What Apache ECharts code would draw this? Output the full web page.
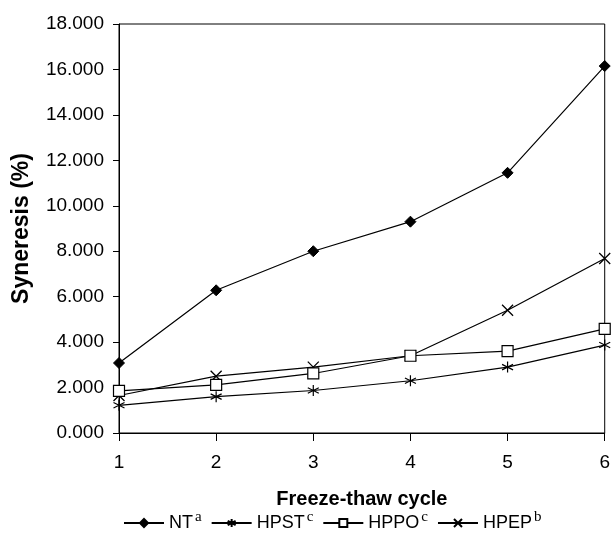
<!DOCTYPE html>
<html>
<head>
<meta charset="utf-8">
<script src="https://cdn.jsdelivr.net/npm/echarts@6/dist/echarts.min.js"></script>
<style>
  html, body { margin: 0; padding: 0; background: #fff; }
  #chart { width: 613px; height: 551px; }
</style>
</head>
<body>
<div id="chart"></div>
<script>
// freeze-thaw cycles
var cycles = [1, 2, 3, 4, 5, 6];
// syneresis (%) per starch
var ntValues   = [3.08, 6.28, 8.00, 9.30, 11.45, 16.15];
var hpstValues = [1.22, 1.60, 1.87, 2.30, 2.90, 3.87];
var hppoValues = [1.85, 2.12, 2.62, 3.40, 3.60, 4.58];
var hpepValues = [1.65, 2.50, 2.90, 3.40, 5.40, 7.68];
var seriesNames = ['NT', 'HPST', 'HPPO', 'HPEP'];
var superscripts = ['a', 'c', 'c', 'b'];

function pairs(vals) {
    return cycles.map(function (c, i) { return [c, vals[i]]; });
}

var myChart = echarts.init(document.getElementById('chart'));

var asterisk = 'path://M5,0L5,10M0.7,2.5L9.3,7.5M9.3,2.5L0.7,7.5';
var cross = 'path://M0,0L10,10M10,0L0,10';

function makeSeries(idx, vals, symbol, size, itemStyle) {
    return {
        name: seriesNames[idx],
        type: 'line',
        data: pairs(vals),
        symbol: symbol,
        symbolSize: size,
        showAllSymbol: true,
        lineStyle: { color: '#000', width: 1.2 },
        itemStyle: itemStyle,
        emphasis: { disabled: true },
        z: 10 - idx
    };
}

var option = {
    animation: false,
    backgroundColor: '#fff',
    textStyle: { fontFamily: 'Liberation Sans, Arial, sans-serif', color: '#000' },
    grid: {
        left: 119, right: 7, top: 24, bottom: 118,
        show: true, borderColor: '#000', borderWidth: 1
    },
    legend: {
        bottom: 14,
        left: 118,
        itemWidth: 40,
        itemHeight: 10,
        itemGap: 9,
        data: seriesNames,
        formatter: function (name) {
            var i = seriesNames.indexOf(name);
            return '{m|' + name + '}{s|' + superscripts[i] + '}';
        },
        textStyle: {
            color: '#000',
            rich: {
                m: { fontSize: 18, fontFamily: 'Liberation Sans', color: '#000' },
                s: { fontSize: 15, fontFamily: 'Liberation Serif', color: '#000', padding: [0, 0, 12, 2] }
            }
        }
    },
    xAxis: {
        type: 'value',
        min: 1, max: 6, interval: 1,
        name: 'Freeze-thaw cycle',
        nameLocation: 'middle',
        nameGap: 56,
        nameTextStyle: { fontSize: 20, fontWeight: 'bold', color: '#000' },
        axisLine: { lineStyle: { color: '#000', width: 1 } },
        axisTick: { show: true, length: 8, lineStyle: { color: '#000' } },
        axisLabel: { fontSize: 19, color: '#000', margin: 20 },
        splitLine: { show: false }
    },
    yAxis: {
        type: 'value',
        min: 0, max: 18, interval: 2,
        name: 'Syneresis (%)',
        nameLocation: 'middle',
        nameGap: 86,
        nameTextStyle: { fontSize: 23, fontWeight: 'bold', color: '#000' },
        axisLine: { show: true, lineStyle: { color: '#000', width: 1 } },
        axisTick: { show: true, length: 6, lineStyle: { color: '#000' } },
        axisLabel: {
            fontSize: 19, color: '#000', margin: 15,
            formatter: function (v) { return v.toFixed(3); }
        },
        splitLine: { show: false }
    },
    series: [
        makeSeries(0, ntValues, 'diamond', 11, { color: '#000', borderColor: '#000', borderWidth: 1 }),
        makeSeries(1, hpstValues, asterisk, 11, { color: '#000', borderColor: '#000', borderWidth: 1.2 }),
        makeSeries(2, hppoValues, 'rect', 11, { color: '#fff', borderColor: '#000', borderWidth: 1.2 }),
        makeSeries(3, hpepValues, cross, 11, { color: '#000', borderColor: '#000', borderWidth: 1.3 })
    ]
};

myChart.setOption(option);
</script>
</body>
</html>
